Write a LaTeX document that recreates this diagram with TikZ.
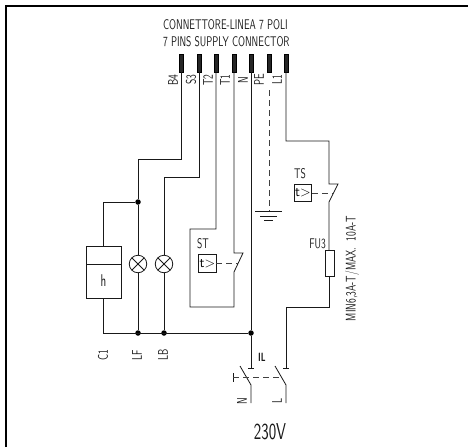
\documentclass[tikz,border=0pt]{standalone}
\usepackage{tikz}
\usetikzlibrary{calc}
\tikzset{wire/.style={draw=black!90,line width=0.8pt}}
\tikzset{link/.style={draw=black!75,line width=0.8pt,dash pattern=on 6pt off 4pt}}
\tikzset{pin/.style={draw=black,fill=black!85,line width=0.4pt,minimum width=4.5pt,minimum height=18pt,inner sep=0pt,outer sep=0pt}}
\tikzset{dot/.style={circle,fill=black,minimum size=5.5pt,inner sep=0pt}}
\tikzset{timer/.style={draw=black!90,line width=0.8pt,minimum width=17.5pt,minimum height=17.5pt,inner sep=0pt,outer sep=0pt,font=\sffamily\fontsize{14}{14}\selectfont}}
\tikzset{lamp/.style={circle,draw=black!90,line width=0.8pt,minimum size=17.5pt,inner sep=0pt,outer sep=0pt,path picture={\draw[black!90,line width=0.8pt] (path picture bounding box.south west) -- (path picture bounding box.north east) (path picture bounding box.north west) -- (path picture bounding box.south east);}}}
\tikzset{cad/.style={inner sep=0pt,text=black!90,font=\sffamily\fontsize{14}{14}\selectfont,xscale=0.69,transform shape}}
\tikzset{tag/.style={rotate=90,cad}}
\begin{document}
\begin{tikzpicture}[x=1pt,y=-1pt]
	\useasboundingbox (0,0) rectangle (468,447);
	\draw[line width=2pt] (5.5,447) -- (5.5,5.5) -- (468,5.5);

	% connector
	\node[cad,anchor=west] (title1) at (163,25) {CONNETTORE-LINEA 7 POLI};
	\node[cad,anchor=west] (title2) at (163,42) {7 PINS SUPPLY CONNECTOR};
	\node[pin] (B4) at (181,63) {};
	\node[pin] (S3) at (199,63) {};
	\node[pin] (T2) at (216,63) {};
	\node[pin] (T1) at (234,63) {};
	\node[pin] (N) at (251,63) {};
	\node[pin] (PE) at (269,63) {};
	\node[pin] (L1) at (286,63) {};
	\node[tag] (tB4) at (173,80) {B4};
	\node[tag] (tS3) at (191,80) {S3};
	\node[tag] (tT2) at (208,80) {T2};
	\node[tag] (tT1) at (225,80) {T1};
	\node[tag] (tN) at (243,80) {N};
	\node[tag] (tPE) at (259,80) {PE};
	\node[tag] (tL1) at (277,80) {L1};

	% loads
	\node[dot] (d1) at (138,202) {};
	\node[dot] (d2) at (138,333) {};
	\node[dot] (d3) at (164,333) {};
	\node[dot] (d4) at (251,333) {};
	\node[lamp] (LF) at (138,264) {};
	\node[lamp] (LB) at (164,264) {};
	\node[draw=black!90,line width=0.8pt,minimum width=35pt,minimum height=52pt,inner sep=0pt,outer sep=0pt] (C1) at (103.5,272) {};
	\draw[wire] (C1.west |- LF) -- (C1.east |- LF);
	\node[cad,font=\sffamily\fontsize{17}{17}\selectfont] (h) at (103.5,281) {h};
	\node[tag] (tC1) at (103,355) {C1};
	\node[tag] (tLF) at (137,355) {LF};
	\node[tag] (tLB) at (163,355) {LB};

	\draw[wire] (B4.south) |- (138,159) -- (d1) -- (LF);
	\draw[wire] (d1) -| (C1.north);
	\draw[wire] (LF) -- (d2);
	\draw[wire] (S3.south) |- (164,177) -- (LB);
	\draw[wire] (LB) -- (d3);
	\draw[wire] (C1.south) |- (d4);
	\draw[wire] (N.south) -- (d4);

	% ST
	\node[timer] (ST) at (207.5,263.5) {t>};
	\node[cad] (tST) at (203,244) {ST};
	\coordinate (a1) at (234,253);
	\coordinate (a2) at (243,253);
	\coordinate (a3) at (234,272);
	\draw[wire] (T2.south) |- (190,229) |- (234,307) -- (a3) -- (a2) -- (a1) -- (T1.south);
	\draw[link] (ST) -- (238,263.5);

	% PE
	\coordinate (g) at (269,211);
	\draw[link] (PE.south) ++(0,18) -- (g);
	\draw[wire] (255,211) -- (282,211);
	\draw[wire] (260,216) -- (277,216);
	\draw[wire] (264,220) -- (273,220);

	% TS and fuse
	\node[timer] (TS) at (303,193) {t>};
	\node[cad] (tTS) at (300,174) {TS};
	\node[draw=black!90,line width=0.8pt,minimum width=8.5pt,minimum height=26.5pt,inner sep=0pt,outer sep=0pt] (FU) at (330,263.5) {};
	\node[cad,anchor=east] (tFU) at (326,244) {FU3};
	\node[tag] (rating) at (352,268.5) {MIN6,3A-T/MAX.\ \ 10A-T};
	\coordinate (b1) at (329,184);
	\coordinate (b2) at (338,184);
	\coordinate (b3) at (329,202);
	\draw[wire] (L1.south) |- (329,141) -- (b1) -- (b2) -- (b3) -- (FU.north -| b3);
	\draw[wire] (FU.south -| b3) |- (286,307) -- (286,368);
	\draw[link] (TS) -- (333,193);

	% mains switch
	\coordinate (n1) at (251,368);
	\draw[wire] (d4) -- (n1);
	\draw[wire] (248,368) -- (254,368);
	\draw[wire] (283,368) -- (289,368);
	\draw[wire] (240,366) -- (251,385) -- (251,403);
	\draw[wire] (275,366) -- (286,385) -- (286,403);
	\draw[wire] (233,373) -- (233,382);
	\draw[link] (233,377) -- (282,377);
	\node[tag] (tN2) at (242,401) {N};
	\node[tag] (tL2) at (277,401) {L};
	\node[cad,font=\sffamily\bfseries\fontsize{12}{12}\selectfont] (tIL) at (262,357) {IL};
	\node[cad,font=\sffamily\fontsize{23}{23}\selectfont] (volt) at (270,432) {230V};
\end{tikzpicture}
\end{document}
